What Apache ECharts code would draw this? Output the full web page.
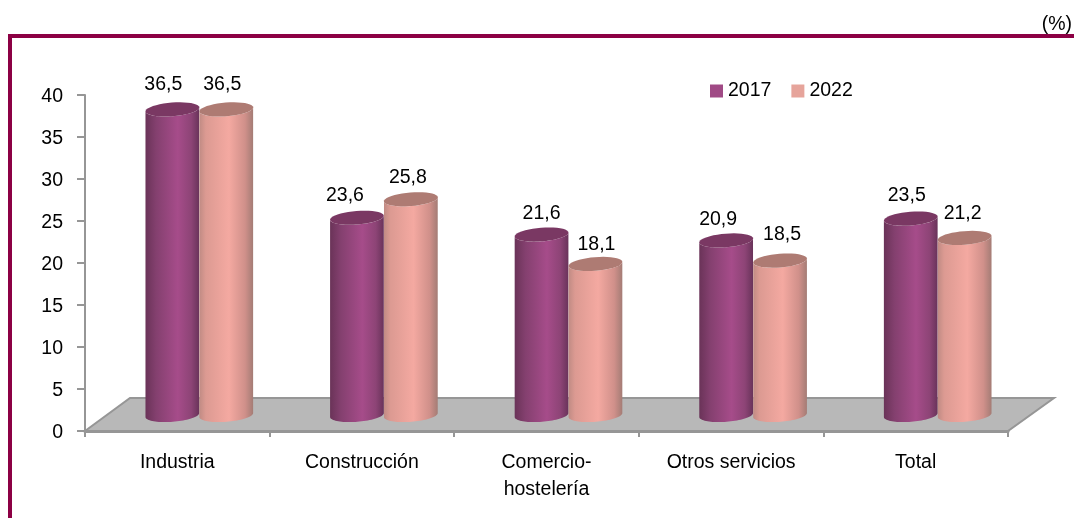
<!DOCTYPE html>
<html><head><meta charset="utf-8">
<style>html,body{margin:0;padding:0;background:#fff}#c{width:1074px;height:518px}</style>
<script src="https://cdn.jsdelivr.net/npm/echarts@6/dist/echarts.min.js"></script>
</head><body><div id="c"></div>
<script>
const categories = ['Industria', 'Construcción', 'Comercio-\nhostelería', 'Otros servicios', 'Total'];
const values2017 = [36.5, 23.6, 21.6, 20.9, 23.5];
const values2022 = [36.5, 25.8, 18.1, 18.5, 21.2];
const yTicks = { min: 0, max: 40, interval: 5 };

// Styling / layout constants (not data)
const FONT = '"Liberation Sans",Arial,sans-serif';
const FONT_SIZE = 19.5;
const DEPTH_X = 45, DEPTH_Y = 33;
const BASE_X = 22, BASE_TOP_Y = 15, BASE_BOT_Y = 16;
const RX_RATIO = 0.146, RY = 6.8, TILT = 4.5 * Math.PI / 180;
const ARC_STEPS = 40;
const labelNudgeX2017 = [-9, -12, 0, -8, -4];
const labelNudgeX2022 = [-4, -3, 1, 2, -2];
const labelNudgeY2017 = [0, 3, 4, 4, 2];
const labelNudgeY2022 = [0, 3, 6, -1, 1];

const style2017 = {
  flat: '#a04a85', top: '#7a3863', side: -1, nudgeX: labelNudgeX2017, nudgeY: labelNudgeY2017,
  stops: [[0, '#6a3358'], [0.2, '#84406f'], [0.6, '#a64c8a'], [0.85, '#8d4476'], [1, '#69335a']]
};
const style2022 = {
  flat: '#e6a49b', top: '#ae7b73', side: 1, nudgeX: labelNudgeX2022, nudgeY: labelNudgeY2022,
  stops: [[0, '#c08b84'], [0.12, '#dc9a92'], [0.55, '#f4a9a1'], [0.85, '#d0908a'], [1, '#a47c75']]
};

// Point on a tilted ellipse; t runs from PI (left) to 0 (right)
function ellipsePoint(cx, cy, rx, t) {
  const ex = rx * Math.cos(t), ey = RY * Math.sin(t);
  return [cx + ex * Math.cos(TILT) + ey * Math.sin(TILT),
          cy - ex * Math.sin(TILT) + ey * Math.cos(TILT)];
}
function arc(cx, cy, rx, from, to) {
  const pts = [];
  for (let i = 0; i <= ARC_STEPS; i++) {
    pts.push(ellipsePoint(cx, cy, rx, from + (to - from) * i / ARC_STEPS));
  }
  return pts;
}

function cylinder(st) {
  return function (params, api) {
    const idx = api.value(0), val = api.value(1);
    const band = api.size([1, 0])[0];
    const rx = band * RX_RATIO;
    const c = api.coord([idx, val]);
    const b = api.coord([idx, 0]);
    const cx = c[0] + BASE_X + st.side * rx;
    const topY = c[1] - BASE_TOP_Y, botY = b[1] - BASE_BOT_Y;
    // front half of base (left to right), then back up along the front half of the top
    const body = arc(cx, botY, rx, Math.PI, 0).concat(arc(cx, topY, rx, 0, Math.PI));
    const top = arc(cx, topY, rx, 0, 2 * Math.PI);
    const grad = {
      type: 'linear', x: 0, y: 0, x2: 1, y2: 0,
      colorStops: st.stops.map(s => ({ offset: s[0], color: s[1] }))
    };
    return {
      type: 'group',
      children: [
        { type: 'polygon', shape: { points: body }, style: { fill: grad } },
        { type: 'polygon', shape: { points: top }, style: { fill: st.top } },
        {
          type: 'text',
          style: {
            text: val.toFixed(1).replace('.', ','),
            x: cx + st.nudgeX[idx], y: topY - 25 + st.nudgeY[idx],
            align: 'center', verticalAlign: 'middle',
            font: FONT_SIZE + 'px ' + FONT, fill: '#000'
          }
        }
      ]
    };
  };
}

function floor(params, api) {
  const g = params.coordSys;
  const x0 = g.x, x1 = g.x + g.width, y = g.y + g.height;
  return {
    type: 'polygon',
    shape: { points: [[x0, y], [x0 + DEPTH_X, y - DEPTH_Y], [x1 + DEPTH_X + 1, y - DEPTH_Y], [x1, y]] },
    style: { fill: '#b8b8b8', stroke: '#969696', lineWidth: 2 }
  };
}

const chart = echarts.init(document.getElementById('c'), null, { renderer: 'canvas' });
chart.setOption({
  animation: false,
  backgroundColor: '#fff',
  textStyle: { fontFamily: FONT },
  grid: { left: 85, top: 95, width: 923, height: 336, containLabel: false },
  legend: {
    left: 705, top: 76, icon: 'rect', itemWidth: 13, itemHeight: 13, itemGap: 20,
    data: ['2017', '2022'],
    textStyle: { fontFamily: FONT, fontSize: FONT_SIZE, color: '#000' }
  },
  xAxis: {
    type: 'category', data: categories,
    axisLine: { lineStyle: { color: '#969696', width: 3 } },
    axisTick: { show: true, alignWithLabel: false, length: 6, lineStyle: { color: '#969696', width: 2 } },
    axisLabel: { fontFamily: FONT, fontSize: FONT_SIZE, color: '#000', margin: 18, lineHeight: 27, interval: 0 },
    splitLine: { show: false }
  },
  yAxis: {
    type: 'value', min: yTicks.min, max: yTicks.max, interval: yTicks.interval,
    axisLine: { show: true, lineStyle: { color: '#969696', width: 2 } },
    axisTick: { show: true, length: 8, lineStyle: { color: '#969696', width: 2 } },
    axisLabel: { fontFamily: FONT, fontSize: FONT_SIZE, color: '#000', margin: 22, verticalAlign: 'top', lineHeight: 3 },
    splitLine: { show: false }
  },
  graphic: [
    { type: 'rect', left: 8, top: 34, shape: { width: 1066, height: 4 }, style: { fill: '#8c0044' }, silent: true },
    { type: 'rect', left: 8, top: 34, shape: { width: 4, height: 484 }, style: { fill: '#8c0044' }, silent: true },
    { type: 'text', right: 2, top: 15, style: { text: '(%)', font: FONT_SIZE + 'px ' + FONT, fill: '#000' }, silent: true }
  ],
  series: [
    { type: 'custom', name: 'floor', z: 1, silent: true, renderItem: floor, data: [[0, 0]], encode: { x: 0, y: 1 } },
    { type: 'custom', name: '2017', z: 2, renderItem: cylinder(style2017), itemStyle: { color: style2017.flat },
      encode: { x: 0, y: 1 }, data: values2017.map((v, i) => [i, v]) },
    { type: 'custom', name: '2022', z: 3, renderItem: cylinder(style2022), itemStyle: { color: style2022.flat },
      encode: { x: 0, y: 1 }, data: values2022.map((v, i) => [i, v]) }
  ]
});
</script></body></html>
